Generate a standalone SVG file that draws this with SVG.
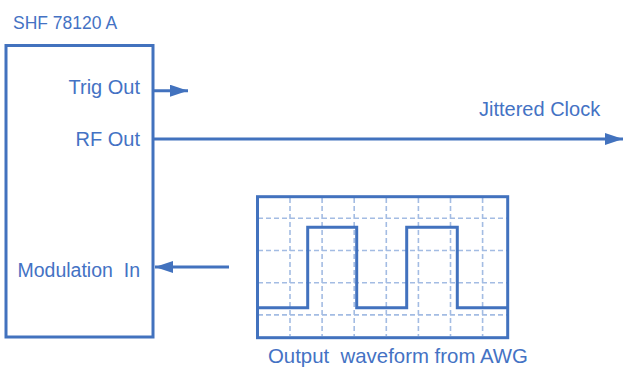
<svg xmlns="http://www.w3.org/2000/svg" width="623" height="369" viewBox="0 0 623 369">
<style>
text{font-family:"Liberation Sans",Arial,sans-serif;fill:#4472C4;font-size:20px}
.ln{stroke:#4272BE;stroke-width:3;fill:none}
.grid{stroke:#A3BCE3;stroke-width:1.6;stroke-dasharray:5 3;fill:none}
</style>
<defs>
<marker id="ah" markerUnits="userSpaceOnUse" markerWidth="18" markerHeight="12" refX="18" refY="6" orient="auto">
<path d="M0,0 L18,6 L0,12 Z" fill="#4272BE"/>
</marker>
</defs>
<rect width="623" height="369" fill="#ffffff"/>
<g id="shf">
<rect class="ln" x="6" y="45.5" width="147" height="291.5"/>
<text x="13" y="29" style="font-size:17.5px">SHF 78120 A</text>
<text x="140" y="94" text-anchor="end">Trig Out</text>
<text x="140" y="146" text-anchor="end">RF Out</text>
<text x="140" y="277" text-anchor="end" style="font-size:19.5px" xml:space="preserve">Modulation  In</text>
</g>
<g id="awg">
<g class="grid">
<path d="M290,198V336M322.1,198V336M354.2,198V336M386.3,198V336M418.4,198V336M450.5,198V336M482.6,198V336"/>
<path d="M258,218.3H507M258,250.5H507M258,282.7H507M258,314.9H507"/>
</g>
<path class="ln" d="M257.5,307.7H307.7V227.3H356.7V307.7H406.7V227.3H457.3V307.7H507.5"/>
<rect class="ln" x="257.5" y="196.7" width="250.2" height="141"/>
<text x="268" y="363" style="font-size:20.4px" xml:space="preserve">Output  waveform from AWG</text>
</g>
<g id="connectors">
<line class="ln" x1="153" y1="90.7" x2="188" y2="90.7" marker-end="url(#ah)"/>
<line class="ln" x1="153" y1="139" x2="623" y2="139" marker-end="url(#ah)"/>
<line class="ln" x1="229" y1="267" x2="155" y2="267" marker-end="url(#ah)"/>
<text x="479" y="116">Jittered Clock</text>
</g>
</svg>
